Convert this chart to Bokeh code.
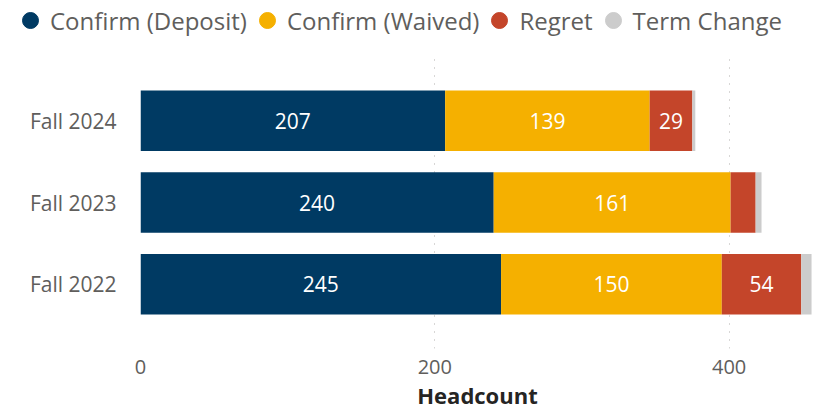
from bokeh.plotting import figure
from bokeh.layouts import column
from bokeh.models import (ColumnDataSource, FactorRange, Range1d, Legend, LegendItem,
                          LabelSet, FixedTicker)
from bokeh.core.properties import value
from bokeh.embed import file_html
from bokeh.resources import INLINE

terms = ["Fall 2024", "Fall 2023", "Fall 2022"]
series = ["Confirm (Deposit)", "Confirm (Waived)", "Regret", "Term Change"]
deposit = [207, 240, 245]
waived = [139, 161, 150]
regret = [29, 17, 54]
term_change = [2, 4, 7]
x_ticks = [0, 200, 400]
colors = ["#003A63", "#F5B000", "#C4452A", "#CCCCCC"]

FONT = "Open Sans"

data = {"term": terms, "deposit": deposit, "waived": waived,
        "regret": regret, "term_change": term_change}
source = ColumnDataSource(data)
keys = ["deposit", "waived", "regret", "term_change"]

# ---- legend strip ----
lf = figure(width=823, height=56, output_backend="svg", toolbar_location=None,
            x_range=Range1d(0, 1), y_range=Range1d(0, 1),
            min_border=0, x_axis_location=None, y_axis_location=None)
lf.frame_align = False
lf.grid.visible = False
lf.outline_line_color = None
nan = float("nan")
legend_src = ColumnDataSource(dict(x=[nan], y=[nan]))
items = []
for name, c in zip(series, colors):
    r = lf.scatter(x="x", y="y", source=legend_src, marker="circle", size=10,
                   fill_color=c, line_color=c)
    items.append(LegendItem(label=name, renderers=[r]))
legend = Legend(items=items, orientation="horizontal", location=(10, 16),
                glyph_width=40, glyph_height=40, label_standoff=-11, spacing=-12,
                padding=0, margin=0, border_line_color=None, background_fill_alpha=0,
                label_text_font=FONT, label_text_font_size="24px",
                label_text_color="#605E5C")
lf.add_layout(legend)

# ---- main chart ----
p = figure(width=823, height=356, output_backend="svg", toolbar_location=None,
           y_range=FactorRange(factors=list(reversed(terms)), range_padding=0.191),
           x_range=Range1d(0, 458),
           min_border_left=140, min_border_right=9, min_border_top=0, min_border_bottom=60)
p.frame_align = False

p.hbar_stack(keys, y="term", height=0.74, color=colors, source=source, line_color=None)

# segment labels
lx, ly, lt = [], [], []
for i, t in enumerate(terms):
    start = 0
    for k in keys:
        v = data[k][i]
        if v >= 25:
            lx.append(start + v / 2)
            ly.append(t)
            lt.append(str(v))
        start += v
lab_src = ColumnDataSource(dict(x=lx, y=ly, t=lt))
labels = LabelSet(x="x", y="y", text="t", source=lab_src, text_color="white",
                  text_font=value(FONT), text_font_size="21px", text_align="center",
                  text_baseline="middle")
p.add_layout(labels)

p.xaxis.ticker = FixedTicker(ticks=x_ticks)
p.xaxis.axis_line_color = None
p.xaxis.major_tick_line_color = None
p.xaxis.minor_tick_line_color = None
p.xaxis.major_label_text_font = FONT
p.xaxis.major_label_text_font_size = "20px"
p.xaxis.major_label_text_color = "#605E5C"
p.xaxis.major_label_standoff = 5
p.xaxis.axis_label = "Headcount"
p.xaxis.axis_label_text_font = FONT
p.xaxis.axis_label_text_font_size = "22px"
p.xaxis.axis_label_text_font_style = "bold"
p.xaxis.axis_label_text_color = "#252423"
p.xaxis.axis_label_standoff = 3

p.yaxis.axis_line_color = None
p.yaxis.major_tick_line_color = None
p.yaxis.minor_tick_line_color = None
p.yaxis.major_label_text_font = FONT
p.yaxis.major_label_text_font_size = "21px"
p.yaxis.major_label_text_color = "#605E5C"
p.yaxis.major_label_standoff = 18

p.xgrid.ticker = FixedTicker(ticks=x_ticks)
p.xgrid.grid_line_color = "#B0AEAC"
p.xgrid.grid_line_dash = "1 7"
p.ygrid.grid_line_color = None
p.outline_line_color = None

layout = column(lf, p, spacing=0)
open("out.html", "w").write(file_html(layout, INLINE))
